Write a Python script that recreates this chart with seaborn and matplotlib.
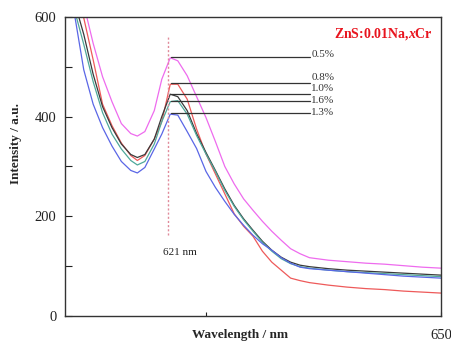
import numpy as np
import pandas as pd
import matplotlib
matplotlib.use("Agg")
import matplotlib.pyplot as plt
import seaborn as sns

wavelength = [611, 612, 613, 614, 615, 616, 617, 617.7, 618.5, 619.5, 620.3, 621.2, 622, 623,
              624, 625, 626, 627, 628, 629, 630, 631, 632, 633, 634, 635, 636, 638, 640, 642,
              644, 646, 648, 650]

s_05 = [700, 625, 547, 480, 430, 386, 366, 361, 370, 412, 475, 518, 512, 482,
        440, 398, 350, 300, 265, 235, 212, 190, 170, 152, 135, 125, 117, 112, 109, 106,
        104, 101, 98, 96]
s_08 = [650, 598, 514, 425, 382, 347, 322, 312, 322, 355, 390, 465, 465, 435,
        375, 325, 285, 245, 205, 180, 160, 130, 108, 92, 76, 71, 67, 62, 58, 55,
        53, 50, 48, 46]
s_10 = [631, 565, 485, 420, 378, 345, 324, 318, 324, 355, 400, 445, 440, 412,
        366, 328, 292, 255, 222, 195, 172, 150, 132, 118, 108, 102, 99, 95, 92, 90,
        88, 86, 84, 82]
s_16 = [615, 545, 470, 408, 365, 335, 312, 303, 310, 345, 390, 430, 432, 405,
        362, 325, 290, 252, 220, 193, 170, 148, 130, 115, 105, 99, 96, 92, 89, 87,
        85, 83, 81, 79]
s_13 = [607, 494, 425, 378, 341, 310, 292, 287, 298, 335, 365, 405, 403, 370,
        336, 290, 258, 230, 204, 182, 162, 145, 132, 117, 106, 98, 95, 92, 89, 86,
        83, 80, 78, 76]

series_names = ["0.5%", "0.8%", "1.0%", "1.6%", "1.3%"]
series_colors = ["#ee6bee", "#ee5a5a", "#3a3a3a", "#4fa89a", "#5a66e6"]
peak_values = [520, 467, 445, 432, 407]
label_y = [524, 478, 456, 432, 409]

peak_wl = 621
ticks_y = [0, 100, 200, 300, 400, 500, 600]
ticklabels_y = ["0", "", "200", "", "400", "", "600"]

frames = []
for name, vals in zip(series_names, [s_05, s_08, s_10, s_16, s_13]):
    frames.append(pd.DataFrame({"Wavelength": wavelength, "Intensity": vals, "x": name}))
df = pd.concat(frames, ignore_index=True)

sns.set_style("ticks")
plt.rcParams["font.family"] = ["Liberation Serif", "DejaVu Serif"]
plt.rcParams["mathtext.fontset"] = "custom"
plt.rcParams["mathtext.rm"] = "Liberation Serif"
plt.rcParams["mathtext.it"] = "Liberation Serif:italic"
plt.rcParams["mathtext.bf"] = "Liberation Serif:bold"
plt.rcParams["mathtext.bfit"] = "Liberation Serif:bold:italic"

fig = plt.figure(figsize=(4.51, 3.45), dpi=100)
ax = fig.add_axes([0.144, 0.084, 0.834, 0.867])

sns.lineplot(data=df, x="Wavelength", y="Intensity", hue="x",
             palette=dict(zip(series_names, series_colors)), linewidth=0.9,
             legend=False, ax=ax, sort=False)

ax.set_xlim(610, 650)
ax.set_ylim(0, 600)

# vertical dotted marker line
ax.plot([peak_wl, peak_wl], [163, 564], color="#e08a9a", linestyle=(0, (1.5, 1.5)), linewidth=1.0)
ax.text(622.2, 128, "621 nm", ha="center", va="center", fontsize=8, color="#222222")

# label lines
for name, pv, ly in zip(series_names, peak_values, label_y):
    ax.plot([621.3, 636.1], [pv, pv], color="#333333", linewidth=0.9)
    ax.text(636.2, ly, name, ha="left", va="center", fontsize=8, color="#333333")

ax.text(0.979, 0.942, r"ZnS:0.01Na,$\mathbfit{x}$Cr", transform=ax.transAxes,
        ha="right", va="center", fontsize=10, fontweight="bold", color="#e8141e")

ax.set_yticks(ticks_y)
ax.set_yticklabels(ticklabels_y)
ax.set_xticks([625, 650])
ax.set_xticklabels(["", "650"])
ax.tick_params(axis="y", direction="in", length=5, width=0.8, labelsize=10.5, pad=6, colors="#222222")
ax.tick_params(axis="x", direction="in", length=3, width=0.8, labelsize=10.5, pad=9, colors="#222222")

for sp in ax.spines.values():
    sp.set_color("#333333")
    sp.set_linewidth(1.0)

ax.set_xlabel("")
ax.set_ylabel("")
fig.text(0.036, 0.585, "Intensity / a.u.", rotation=90, ha="center", va="center",
         fontsize=9.5, fontweight="bold")
fig.text(0.532, 0.028, "Wavelength / nm", ha="center", va="center",
         fontsize=9.5, fontweight="bold")

fig.savefig("out.png", dpi=100)
